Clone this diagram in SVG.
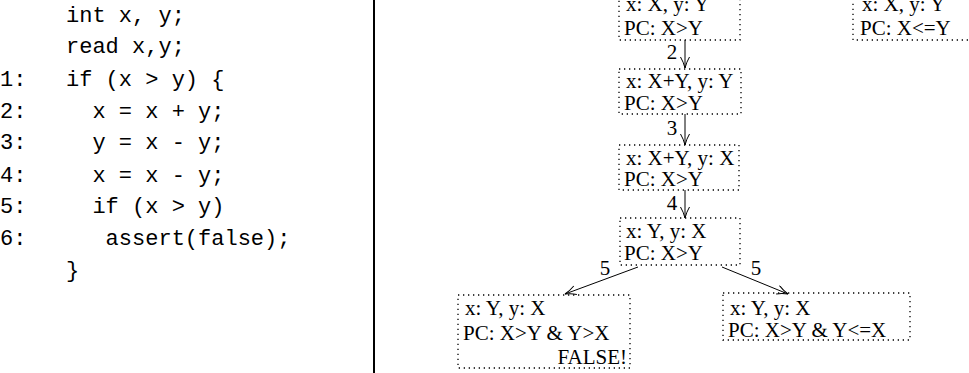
<svg xmlns="http://www.w3.org/2000/svg" width="969" height="373" viewBox="0 0 969 373">
<defs>
<style>
.code{font-family:"Liberation Mono","DejaVu Sans Mono",monospace;font-size:22px;fill:#000;white-space:pre}
.t{font-family:"Liberation Serif","Times New Roman",serif;font-size:21px;fill:#000}
.box{fill:none;stroke:#000;stroke-width:1.3;stroke-dasharray:1.3 3.7}
.edge{fill:none;stroke:#000;stroke-width:1}
</style>
<marker id="ah" markerUnits="userSpaceOnUse" markerWidth="14" markerHeight="12" refX="12" refY="5" orient="auto">
<path d="M1,0.5 Q6,3.5 12,5 Q6,6.5 1,9.5" fill="none" stroke="#000" stroke-width="1"/>
</marker>
</defs>
<rect width="969" height="373" fill="#fff"/>
<g id="code">
<text class="code" xml:space="preserve" x="0" y="22">     int x, y;</text>
<text class="code" xml:space="preserve" x="0" y="53">     read x,y;</text>
<text class="code" xml:space="preserve" x="0" y="86">1:   if (x &gt; y) {</text>
<text class="code" xml:space="preserve" x="0" y="118">2:     x = x + y;</text>
<text class="code" xml:space="preserve" x="0" y="149">3:     y = x - y;</text>
<text class="code" xml:space="preserve" x="0" y="182">4:     x = x - y;</text>
<text class="code" xml:space="preserve" x="0" y="213">5:     if (x &gt; y)</text>
<text class="code" xml:space="preserve" x="0" y="245">6:      assert(false);</text>
<text class="code" xml:space="preserve" x="0" y="277">     }</text>
</g>
<line x1="374" y1="0" x2="374" y2="373" stroke="#000" stroke-width="2"/>
<g id="connectors">
<line class="edge" x1="685" y1="40" x2="685" y2="68" marker-end="url(#ah)"/>
<line class="edge" x1="685" y1="114" x2="685" y2="145" marker-end="url(#ah)"/>
<line class="edge" x1="685" y1="190" x2="685" y2="218" marker-end="url(#ah)"/>
<line class="edge" x1="638" y1="267" x2="565" y2="294" marker-end="url(#ah)"/>
<line class="edge" x1="722" y1="267" x2="788" y2="294" marker-end="url(#ah)"/>
<text class="t" x="672" y="59" text-anchor="middle">2</text>
<text class="t" x="672" y="135" text-anchor="middle">3</text>
<text class="t" x="672" y="210" text-anchor="middle">4</text>
<text class="t" x="605" y="275" text-anchor="middle">5</text>
<text class="t" x="756" y="275" text-anchor="middle">5</text>
</g>
<g id="n0">
<rect class="box" x="619" y="-10" width="121" height="50"/>
<text class="t" x="626" y="11">x: X, y: Y</text>
<text class="t" x="624" y="35">PC: X&gt;Y</text>
</g>
<g id="n0b">
<rect class="box" x="853" y="-10" width="130" height="50"/>
<text class="t" x="862" y="11">x: X, y: Y</text>
<text class="t" x="860" y="35">PC: X&lt;=Y</text>
</g>
<g id="n1">
<rect class="box" x="619" y="69" width="122" height="45"/>
<text class="t" x="626" y="88">x: X+Y, y: Y</text>
<text class="t" x="624" y="110">PC: X&gt;Y</text>
</g>
<g id="n2">
<rect class="box" x="619" y="145" width="120" height="45"/>
<text class="t" x="626" y="165">x: X+Y, y: X</text>
<text class="t" x="624" y="186">PC: X&gt;Y</text>
</g>
<g id="n3">
<rect class="box" x="620" y="218" width="120" height="47"/>
<text class="t" x="626" y="238">x: Y, y: X</text>
<text class="t" x="624" y="260">PC: X&gt;Y</text>
</g>
<g id="n4">
<rect class="box" x="458" y="295" width="172" height="73"/>
<text class="t" x="465" y="315">x: Y, y: X</text>
<text class="t" x="463" y="340">PC: X&gt;Y &amp; Y&gt;X</text>
<text class="t" x="627" y="364" text-anchor="end">FALSE!</text>
</g>
<g id="n5">
<rect class="box" x="723" y="293" width="187" height="47"/>
<text class="t" x="730" y="315">x: Y, y: X</text>
<text class="t" x="728" y="337">PC: X&gt;Y &amp; Y&lt;=X</text>
</g>
</svg>
